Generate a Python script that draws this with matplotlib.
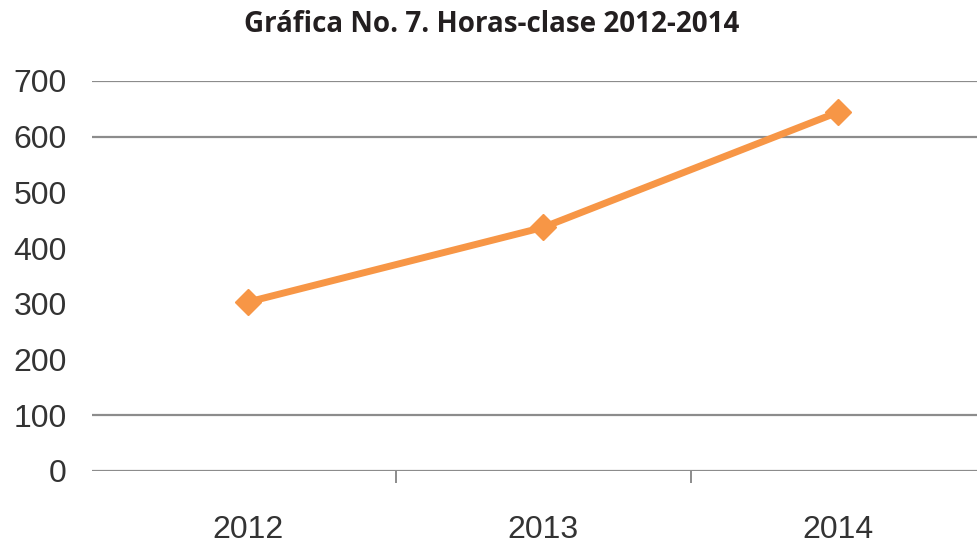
import matplotlib
matplotlib.use("Agg")
import matplotlib.pyplot as plt
import numpy as np

years = ["2012", "2013", "2014"]
horas = [303, 437, 644]
yticks = [0, 100, 200, 300, 400, 500, 600, 700]
visible_grid = [0, 100, 600, 700]
title = "Gráfica No. 7. Horas-clase 2012-2014"

W, H = 978, 546
fig = plt.figure(figsize=(W / 100, H / 100), dpi=100)
left_px, right_px = 91.7, 985.5
top_px, bot_px = 81, 470.7
ax = fig.add_axes([left_px / W, 1 - bot_px / H, (right_px - left_px) / W, (bot_px - top_px) / H])

x = np.arange(len(years))
ax.plot(x, horas, color="#F79646", lw=5, marker="D", ms=13, zorder=3, clip_on=False)

ax.set_xlim(-0.53, 2.5)
ax.set_ylim(0, 700)
ax.set_yticks(yticks)
ax.set_yticklabels([str(v) for v in yticks])
for v in visible_grid:
    ax.axhline(v, color="#8c8c8c", lw=1.6, zorder=1)

for s in ax.spines.values():
    s.set_visible(False)

ax.set_xticks(x)
ax.set_xticklabels(years)
ax.set_xticks([0.5, 1.5], minor=True)
ax.tick_params(axis="x", which="major", length=0, pad=32)
ax.tick_params(axis="x", which="minor", length=8.5, width=1.4, color="#8c8c8c")
ax.tick_params(axis="y", length=0, pad=18)
for lab in ax.get_xticklabels() + ax.get_yticklabels():
    lab.set_fontfamily("Liberation Sans")
    lab.set_fontsize(23)
    lab.set_color("#333333")

fig.text(492 / W, 1 - 25 / H, title, ha="center", va="center",
         fontsize=20, fontweight="bold", family="Open Sans", color="#231f20")

fig.savefig("out.png", dpi=100)
